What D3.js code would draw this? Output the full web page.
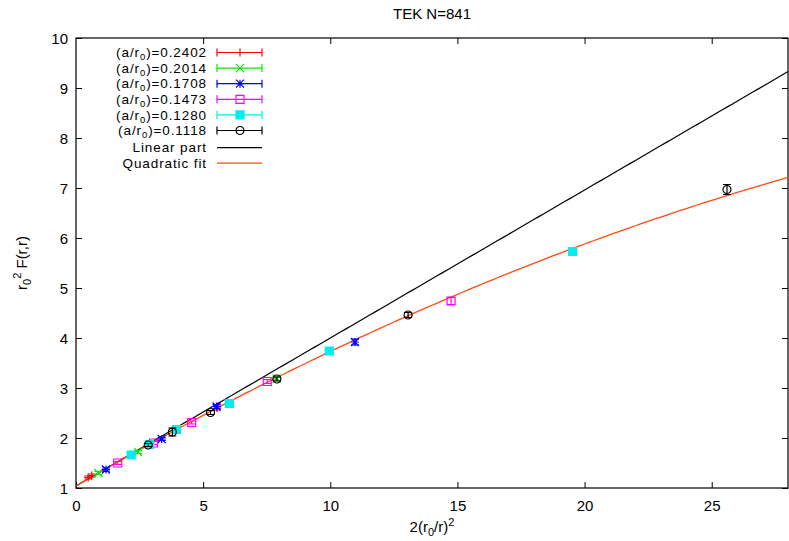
<!DOCTYPE html>
<html>
<head>
<meta charset="utf-8">
<script src="https://cdn.jsdelivr.net/npm/d3@7"></script>
<style>
  body { margin: 0; background: #fff; }
  svg text { font-family: "Liberation Sans", Arial, sans-serif; font-size: 15px; fill: #000; }
  .legend text { font-size: 13.5px; letter-spacing: 0.9px; }
</style>
</head>
<body>
<svg width="789" height="541"></svg>
<script>
// lattice spacings (a/r0) of the six runs
const spacings = ["0.2402", "0.2014", "0.1708", "0.1473", "0.1280", "0.1118"];
const colors = ["#ff0000", "#00ee00", "#0000ff", "#ff00ff", "#00eeee", "#000000"];
const markers = ["plus", "cross", "star", "square", "fsquare", "circle"];

// x = 2(r0/r)^2, y = r0^2 F(r,r), e = error
const x0 = [0.48, 0.62, 5.55];
const y0 = [1.21, 1.25, 2.60];
const e0 = [0.03, 0.03, 0.04];

const x1 = [0.88, 2.44, 7.89];
const y1 = [1.30, 1.72, 3.19];
const e1 = [0.03, 0.03, 0.04];

const x2 = [1.18, 3.37, 5.53, 10.97];
const y2 = [1.37, 1.98, 2.63, 3.92];
const e2 = [0.03, 0.03, 0.04, 0.06];

const x3 = [1.64, 3.05, 4.55, 7.52, 14.75];
const y3 = [1.50, 1.90, 2.31, 3.13, 4.74];
const e3 = [0.03, 0.03, 0.03, 0.04, 0.07];

const x4 = [2.17, 2.89, 3.95, 6.03, 9.96, 19.53];
const y4 = [1.66, 1.87, 2.17, 2.69, 3.74, 5.73];
const e4 = [0.03, 0.03, 0.03, 0.03, 0.04, 0.07];

const x5 = [2.84, 3.79, 5.29, 7.90, 13.06, 25.60];
const y5 = [1.86, 2.12, 2.51, 3.18, 4.46, 6.97];
const e5 = [0.03, 0.08, 0.04, 0.04, 0.05, 0.10];

// fit: c0 + c1 x + c2 x^2 ; linear part uses c0 + c1 x
const fitCoef = [1.04, 0.296, -0.0027];

const xTicks = [0, 5, 10, 15, 20, 25];
const yTicks = [1, 2, 3, 4, 5, 6, 7, 8, 9, 10];

(function (d3) {
  "use strict";

  const svg = d3.select("svg");
  const width = +svg.attr("width");
  const height = +svg.attr("height");

  const margin = { top: 38, right: 1, bottom: 53, left: 76 };
  const innerWidth = width - margin.left - margin.right;
  const innerHeight = height - margin.top - margin.bottom;

  const xScale = d3.scaleLinear().domain([0, 28]).range([0, innerWidth]);
  const yScale = d3.scaleLinear().domain([1, 10]).range([innerHeight, 0]);

  const g = svg.append("g").attr("transform", `translate(${margin.left},${margin.top})`);

  // title
  svg.append("text")
    .attr("x", margin.left + innerWidth / 2)
    .attr("y", 19)
    .attr("text-anchor", "middle")
    .text("TEK N=841");

  // axes: ticks inside, mirrored
  const tl = 6;
  const axB = g.append("g").attr("transform", `translate(0,${innerHeight})`)
    .call(d3.axisBottom(xScale).tickValues(xTicks).tickSize(-tl).tickPadding(12));
  const axT = g.append("g").call(d3.axisTop(xScale).tickValues(xTicks.slice(1)).tickSize(-tl).tickFormat(""));
  const axL = g.append("g")
    .call(d3.axisLeft(yScale).tickValues(yTicks).tickSize(-tl).tickPadding(8));
  const axR = g.append("g").attr("transform", `translate(${innerWidth},0)`)
    .call(d3.axisRight(yScale).tickValues(yTicks).tickSize(-tl).tickFormat(""));
  [axB, axT, axL, axR].forEach((a) => {
    a.select(".domain").remove();
    a.selectAll("line").attr("stroke", "#000");
    a.selectAll("text").attr("font-size", 15).attr("font-family", "Liberation Sans, Arial, sans-serif");
  });
  axL.selectAll(".tick text").attr("dy", "0.35em");

  g.append("rect")
    .attr("x", 0).attr("y", 0)
    .attr("width", innerWidth).attr("height", innerHeight)
    .attr("fill", "none").attr("stroke", "#000").attr("stroke-width", 1.2);

  // axis labels
  const xl = svg.append("text")
    .attr("x", margin.left + innerWidth / 2)
    .attr("y", 532)
    .attr("text-anchor", "middle");
  xl.append("tspan").text("2(r");
  xl.append("tspan").attr("dy", 4).attr("font-size", 11).text("0");
  xl.append("tspan").attr("dy", -4).text("/r)");
  xl.append("tspan").attr("dy", -6).attr("font-size", 11).text("2");

  const yl = svg.append("text")
    .attr("transform", `translate(27,${margin.top + innerHeight / 2}) rotate(-90)`)
    .attr("text-anchor", "middle");
  yl.append("tspan").text("r");
  yl.append("tspan").attr("dy", 4).attr("font-size", 11).text("0");
  yl.append("tspan").attr("dy", -10).attr("font-size", 11).text("2");
  yl.append("tspan").attr("dy", 6).text(" F(r,r)");

  const plotArea = g.append("g");

  // fit lines
  const samples = d3.range(0, 28.001, 0.2);
  const line = d3.line().x((d) => xScale(d[0])).y((d) => yScale(d[1]));
  const linear = (x) => fitCoef[0] + fitCoef[1] * x;
  const quad = (x) => linear(x) + fitCoef[2] * x * x;

  plotArea.append("path")
    .datum(samples.map((x) => [x, linear(x)]))
    .attr("d", line).attr("fill", "none").attr("stroke", "#000").attr("stroke-width", 1.2);
  plotArea.append("path")
    .datum(samples.map((x) => [x, quad(x)]))
    .attr("d", line).attr("fill", "none").attr("stroke", "#ff4a10").attr("stroke-width", 1.3);

  // marker paths
  const s = 4;
  const markerPath = (type) => {
    switch (type) {
      case "plus": return `M${-s},0H${s}M0,${-s}V${s}`;
      case "cross": return `M${-s},${-s}L${s},${s}M${-s},${s}L${s},${-s}`;
      case "star": return `M${-s},0H${s}M0,${-s}V${s}M${-s},${-s}L${s},${s}M${-s},${s}L${s},${-s}`;
      case "square":
      case "fsquare": return `M${-s},${-s}H${s}V${s}H${-s}Z`;
      case "circle": return `M${s},0A${s},${s} 0 1,1 ${-s},0A${s},${s} 0 1,1 ${s},0Z`;
    }
  };
  const drawMarker = (sel, type, color) => {
    sel.append("path")
      .attr("d", markerPath(type))
      .attr("fill", type === "fsquare" ? color : "none")
      .attr("stroke", color)
      .attr("stroke-width", 1.2);
  };

  const allX = [x0, x1, x2, x3, x4, x5];
  const allY = [y0, y1, y2, y3, y4, y5];
  const allE = [e0, e1, e2, e3, e4, e5];

  spacings.forEach((sp, i) => {
    const data = allX[i].map((x, j) => ({ x, y: allY[i][j], e: allE[i][j] }));
    const pts = plotArea.append("g").selectAll("g").data(data).enter().append("g");
    pts.append("path")
      .attr("d", (d) => {
        const px = xScale(d.x);
        const ya = yScale(d.y + d.e), yb = yScale(d.y - d.e);
        return `M${px},${ya}V${yb}M${px - 4},${ya}H${px + 4}M${px - 4},${yb}H${px + 4}`;
      })
      .attr("stroke", colors[i]).attr("stroke-width", 1.2).attr("fill", "none");
    pts.each(function (d) {
      const m = d3.select(this).append("g")
        .attr("transform", `translate(${xScale(d.x)},${yScale(d.y)})`);
      drawMarker(m, markers[i], colors[i]);
    });
  });

  // legend
  const legX = 207, sx0 = 217, sx1 = 262, sxm = 240, legY0 = 52.5, legDy = 15.6;
  const leg = svg.append("g").attr("class", "legend");
  spacings.forEach((sp, i) => {
    const y = legY0 + i * legDy;
    const t = leg.append("text").attr("x", legX).attr("y", y).attr("dy", "0.35em").attr("text-anchor", "end");
    t.append("tspan").text("(a/r");
    t.append("tspan").attr("dy", 3).attr("font-size", 9.5).text("0");
    t.append("tspan").attr("dy", -3).text(`)=${sp}`);
    leg.append("path")
      .attr("d", `M${sx0},${y}H${sx1}M${sx0},${y - 4}V${y + 4}M${sx1},${y - 4}V${y + 4}`)
      .attr("stroke", colors[i]).attr("stroke-width", 1.2).attr("fill", "none");
    const m = leg.append("g").attr("transform", `translate(${sxm},${y})`);
    drawMarker(m, markers[i], colors[i]);
  });
  const lineLegend = [["Linear part", "#000"], ["Quadratic fit", "#ff4a10"]];
  lineLegend.forEach(([name, c], k) => {
    const y = legY0 + (6 + k) * legDy + 1.5;
    leg.append("text").attr("x", legX).attr("y", y).attr("dy", "0.35em").attr("text-anchor", "end").text(name);
    leg.append("line").attr("x1", sx0).attr("x2", sx1).attr("y1", y).attr("y2", y)
      .attr("stroke", c).attr("stroke-width", 1.2);
  });
})(d3);
</script>
</body>
</html>
